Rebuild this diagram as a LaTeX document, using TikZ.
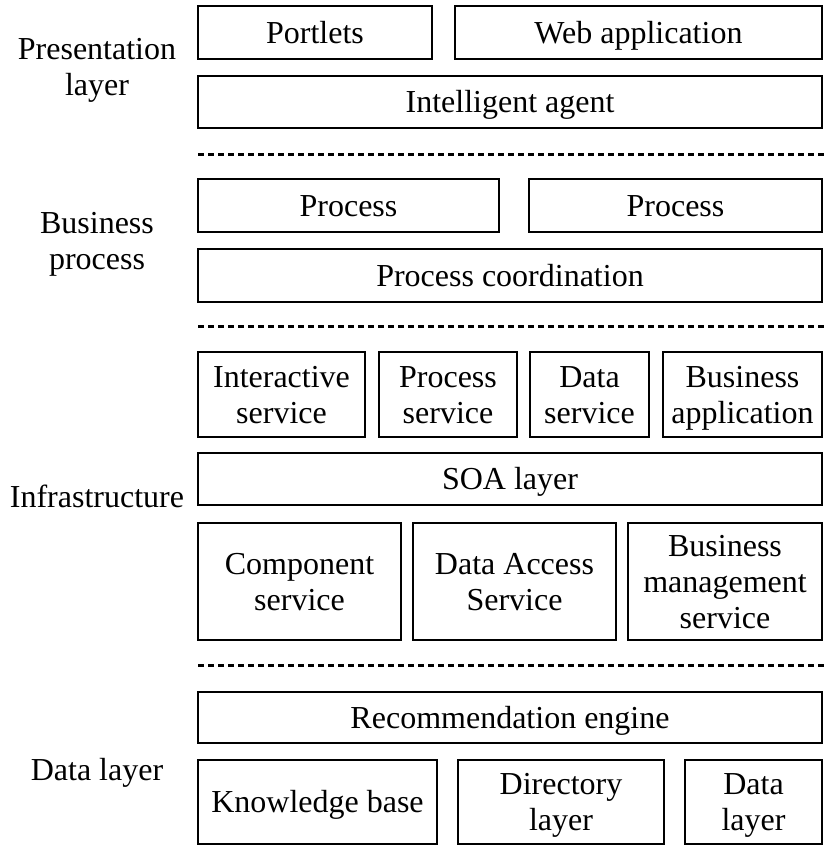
\documentclass[tikz,border=0pt]{standalone}
\usepackage{fontspec}
\setmainfont{Liberation Serif}
\newcommand{\Lst}{\rule[-7pt]{0pt}{35pt}}
\begin{document}
\begin{tikzpicture}[x=1pt,y=-1pt,
  box/.style={draw=black, line width=2pt, inner sep=0pt, align=center,
    font=\fontsize{32}{36}\selectfont},
  lbl/.style={inner sep=0pt, align=center,
    font=\fontsize{32}{36}\selectfont},
  sepline/.style={line width=3pt, dash pattern=on 6pt off 4pt}]
\useasboundingbox (0,0) rectangle (824,847);
% Presentation layer
\node[box, minimum width=234pt, minimum height=53pt] (portlets) at (315,32.5) {\Lst Portlets};
\node[box, minimum width=367pt, minimum height=53pt] (webapp) at (638.5,32.5) {\Lst Web application};
\node[box, minimum width=624pt, minimum height=52pt] (agent) at (510,102) {\Lst Intelligent agent};
\node[lbl] (lpres) at (97,67) {\Lst Presentation\\\Lst layer};
\coordinate (d1a) at (198,154); \coordinate (d1b) at (824,154);
\draw[sepline] (d1a) -- (d1b);
% Business process
\node[box, minimum width=301pt, minimum height=53pt] (proc1) at (348.5,205.5) {\Lst Process};
\node[box, minimum width=293pt, minimum height=53pt] (proc2) at (675.5,205.5) {\Lst Process};
\node[box, minimum width=624pt, minimum height=53pt] (coord) at (510,275.5) {\Lst Process coordination};
\node[lbl] (lbiz) at (97,241) {\Lst Business\\\Lst process};
\coordinate (d2a) at (198,326); \coordinate (d2b) at (824,326);
\draw[sepline] (d2a) -- (d2b);
% Infrastructure
\node[box, minimum width=167pt, minimum height=85pt] (inter) at (281.5,394.5) {\Lst Interactive\\\Lst service};
\node[box, minimum width=138pt, minimum height=85pt] (procsvc) at (448,394.5) {\Lst Process\\\Lst service};
\node[box, minimum width=119pt, minimum height=85pt] (datasvc) at (589.5,394.5) {\Lst Data\\\Lst service};
\node[box, minimum width=159pt, minimum height=85pt] (bizapp) at (742.5,394.5) {\Lst Business\\\Lst application};
\node[box, minimum width=624pt, minimum height=52pt] (soa) at (510,479) {\Lst SOA layer};
\node[box, minimum width=203pt, minimum height=117pt] (comp) at (299.5,581.5) {\Lst Component\\\Lst service};
\node[box, minimum width=203pt, minimum height=117pt] (dacc) at (514.5,581.5) {\Lst Data Access\\\Lst Service};
\node[box, minimum width=194pt, minimum height=117pt] (bizmgmt) at (725,581.5) {\Lst Business\\\Lst management\\\Lst service};
\node[lbl] (linfra) at (97,496.5) {\Lst Infrastructure};
\coordinate (d3a) at (198,665); \coordinate (d3b) at (824,665);
\draw[sepline] (d3a) -- (d3b);
% Data layer
\node[box, minimum width=624pt, minimum height=51pt] (recom) at (510,717.5) {\Lst Recommendation engine};
\node[box, minimum width=239pt, minimum height=84pt] (know) at (317.5,802) {\Lst Knowledge base};
\node[box, minimum width=206pt, minimum height=84pt] (dir) at (561,802) {\Lst Directory\\\Lst layer};
\node[box, minimum width=137pt, minimum height=84pt] (dlay) at (753.5,802) {\Lst Data\\\Lst layer};
\node[lbl] (ldata) at (97,769.5) {\Lst Data layer};
\end{tikzpicture}
\end{document}
